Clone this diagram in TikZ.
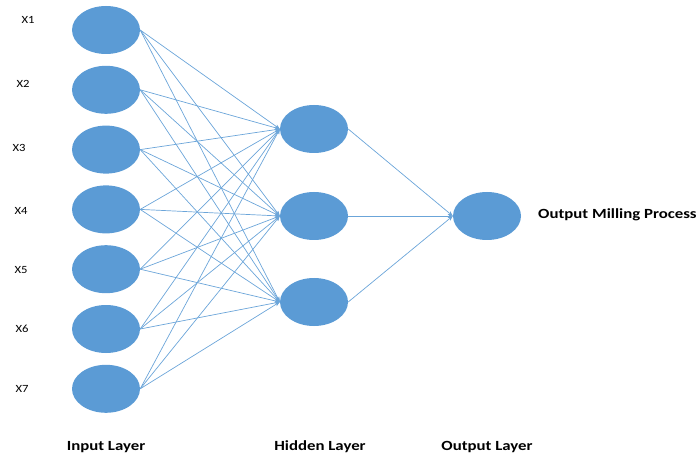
\documentclass[tikz,border=0pt]{standalone}
\usepackage{fontspec}
\setmainfont{Carlito}
\usetikzlibrary{shapes.geometric,arrows.meta}
\definecolor{nblue}{HTML}{5B9BD5}
\newcommand{\hstr}[2]{\scalebox{#1}[1]{#2}}
\begin{document}
\begin{tikzpicture}[x=1pt,y=-1pt,
  neuron/.style={ellipse,fill=nblue,draw=none,minimum width=68pt,minimum height=48pt,inner sep=0pt},
  conn/.style={draw=nblue!90,line width=0.7pt,-{Stealth[length=5pt,width=4pt]}},
  xlab/.style={font=\fontsize{11}{13}\selectfont,inner sep=0pt},
  layerlab/.style={font=\fontsize{14}{16}\selectfont\bfseries,inner sep=0pt}]
\useasboundingbox (0,0) rectangle (699,457);
% input layer
\foreach \i in {1,...,7} {
  \node[neuron] (in\i) at (106,{30+59.8*(\i-1)}) {};
}
% labels for inputs
\node[xlab] (l1) at (28,20) {\hstr{1.15}{X1}};
\node[xlab] (l2) at (23,84) {\hstr{1.15}{X2}};
\node[xlab] (l3) at (19,148) {\hstr{1.15}{X3}};
\node[xlab] (l4) at (21,211) {\hstr{1.15}{X4}};
\node[xlab] (l5) at (21,270) {\hstr{1.15}{X5}};
\node[xlab] (l6) at (22,329) {\hstr{1.15}{X6}};
\node[xlab] (l7) at (22,389) {\hstr{1.15}{X7}};
% hidden layer
\node[neuron] (h1) at (314,129) {};
\node[neuron] (h2) at (314,216) {};
\node[neuron] (h3) at (314,302) {};
% output
\node[neuron] (o) at (487,216) {};
% connections
\foreach \i in {1,...,7} {
  \foreach \j in {1,2,3} {
    \draw[conn] (in\i.east) -- (h\j.west);
  }
}
\foreach \j in {1,2,3} {
  \draw[conn] (h\j.east) -- (o.west);
}
% labels
\node[layerlab,anchor=west] (olab) at (538,215) {\hstr{1.2}{Output Milling Process}};
\node[layerlab] (il) at (106,447) {\hstr{1.2}{Input Layer}};
\node[layerlab] (hl) at (320,447) {\hstr{1.2}{Hidden Layer}};
\node[layerlab] (ol) at (487,447) {\hstr{1.2}{Output Layer}};
\end{tikzpicture}
\end{document}
